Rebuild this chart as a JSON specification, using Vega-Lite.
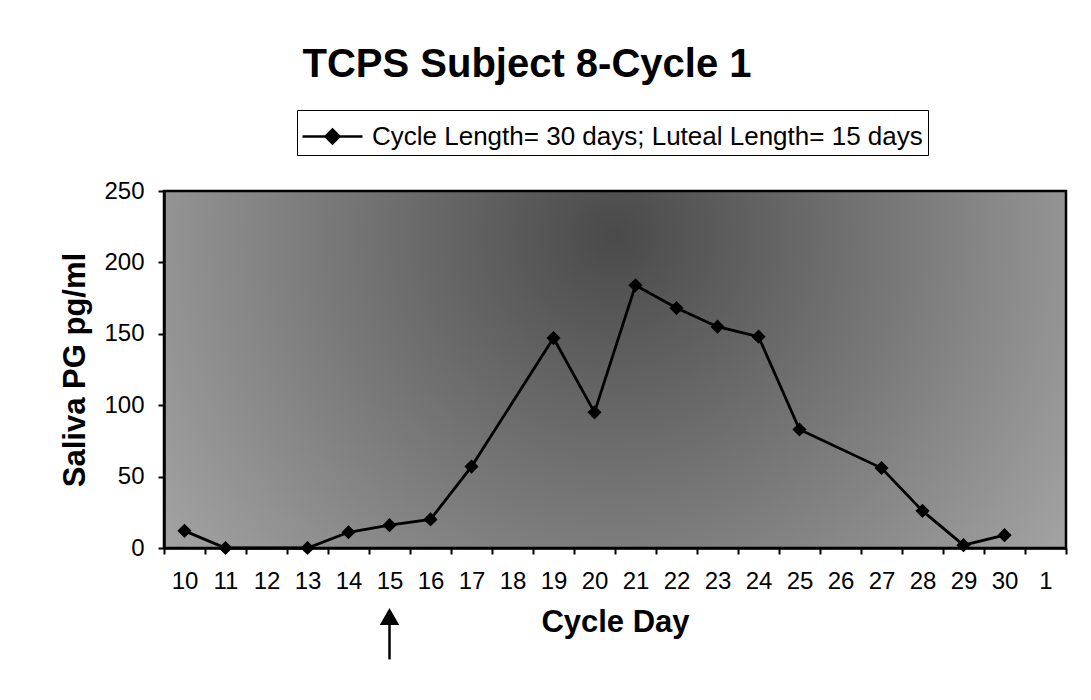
{
  "$schema": "https://vega.github.io/schema/vega-lite/v6.json",
  "autosize": "none",
  "width": 902,
  "height": 357,
  "padding": {"left": 164, "top": 191, "right": 25, "bottom": 152},
  "background": "white",
  "title": {
    "text": "TCPS Subject 8-Cycle 1",
    "fontSize": 40,
    "fontWeight": "bold",
    "font": "Liberation Sans",
    "color": "black",
    "anchor": "middle",
    "frame": "group",
    "dx": -88,
    "offset": 25
  },
  "datasets": {
    "pg": [
      {"day": "10", "pg": 12, "series": "Cycle Length= 30 days; Luteal Length= 15 days"},
      {"day": "11", "pg": 0, "series": "Cycle Length= 30 days; Luteal Length= 15 days"},
      {"day": "13", "pg": 0, "series": "Cycle Length= 30 days; Luteal Length= 15 days"},
      {"day": "14", "pg": 11, "series": "Cycle Length= 30 days; Luteal Length= 15 days"},
      {"day": "15", "pg": 16, "series": "Cycle Length= 30 days; Luteal Length= 15 days"},
      {"day": "16", "pg": 20, "series": "Cycle Length= 30 days; Luteal Length= 15 days"},
      {"day": "17", "pg": 57, "series": "Cycle Length= 30 days; Luteal Length= 15 days"},
      {"day": "19", "pg": 147, "series": "Cycle Length= 30 days; Luteal Length= 15 days"},
      {"day": "20", "pg": 95, "series": "Cycle Length= 30 days; Luteal Length= 15 days"},
      {"day": "21", "pg": 184, "series": "Cycle Length= 30 days; Luteal Length= 15 days"},
      {"day": "22", "pg": 168, "series": "Cycle Length= 30 days; Luteal Length= 15 days"},
      {"day": "23", "pg": 155, "series": "Cycle Length= 30 days; Luteal Length= 15 days"},
      {"day": "24", "pg": 148, "series": "Cycle Length= 30 days; Luteal Length= 15 days"},
      {"day": "25", "pg": 83, "series": "Cycle Length= 30 days; Luteal Length= 15 days"},
      {"day": "27", "pg": 56, "series": "Cycle Length= 30 days; Luteal Length= 15 days"},
      {"day": "28", "pg": 26, "series": "Cycle Length= 30 days; Luteal Length= 15 days"},
      {"day": "29", "pg": 2, "series": "Cycle Length= 30 days; Luteal Length= 15 days"},
      {"day": "30", "pg": 9, "series": "Cycle Length= 30 days; Luteal Length= 15 days"}
    ],
    "arrow": [
      {"day": "15", "tail": -78, "head": -48}
    ]
  },
  "encoding": {
    "x": {
      "field": "day",
      "type": "nominal",
      "scale": {"domain": ["10","11","12","13","14","15","16","17","18","19","20","21","22","23","24","25","26","27","28","29","30","1"], "paddingInner": 0, "paddingOuter": 0},
      "axis": {
        "title": "Cycle Day",
        "labelAngle": 0,
        "tickBand": "extent",
        "tickSize": 6,
        "labelPadding": 15,
        "titlePadding": 14
      }
    }
  },
  "layer": [
    {
      "data": {"name": "pg"},
      "mark": {"type": "line", "strokeWidth": 2.8},
      "encoding": {
        "y": {
          "field": "pg",
          "type": "quantitative",
          "scale": {"domain": [0, 250], "nice": false, "zero": false},
          "axis": {
            "title": "Saliva PG pg/ml",
            "values": [0, 50, 100, 150, 200, 250],
            "tickSize": 6,
            "labelPadding": 14,
            "titlePadding": 12
          }
        },
        "color": {
          "field": "series",
          "type": "nominal",
          "scale": {"range": ["black"]},
          "legend": {
            "title": null,
            "orient": "none",
            "legendX": 133,
            "legendY": -81,
            "symbolType": "M-1.5,0L1.5,0M0,-0.35L0.35,0L0,0.35L-0.35,0Z",
            "symbolSize": 1600,
            "symbolOffset": 9,
            "symbolStrokeWidth": 2.5,
            "symbolStrokeColor": "black",
            "symbolFillColor": "black",
            "labelOffset": 18,
            "labelFontSize": 26,
            "labelLimit": 0,
            "labelColor": "black",
            "strokeColor": "black",
            "fillColor": "white",
            "padding": 5
          }
        }
      }
    },
    {
      "data": {"name": "pg"},
      "mark": {"type": "point", "shape": "diamond", "filled": true, "size": 200, "opacity": 1},
      "encoding": {
        "y": {"field": "pg", "type": "quantitative"},
        "color": {"field": "series", "type": "nominal"}
      }
    },
    {
      "data": {"name": "arrow"},
      "mark": {"type": "rule", "color": "black", "strokeWidth": 2.5, "clip": false},
      "encoding": {
        "y": {"field": "tail", "type": "quantitative"},
        "y2": {"field": "head"}
      }
    },
    {
      "data": {"name": "arrow"},
      "mark": {"type": "point", "shape": "triangle-up", "filled": true, "size": 380, "color": "black", "opacity": 1, "clip": false},
      "encoding": {
        "y": {"field": "head", "type": "quantitative"}
      }
    }
  ],
  "config": {
    "font": "Liberation Sans",
    "view": {
      "stroke": "black",
      "strokeWidth": 2.5,
      "fill": {
        "gradient": "radial",
        "x1": 0.5, "y1": 0.35, "x2": 0.5, "y2": 0.35, "r1": 0, "r2": 0.75,
        "stops": [
          {"offset": 0, "color": "#4a4a4a"},
          {"offset": 1, "color": "#b8b8b8"}
        ]
      }
    },
    "axis": {
      "grid": false,
      "labelFont": "Liberation Sans",
      "labelFontSize": 24,
      "labelColor": "black",
      "titleFont": "Liberation Sans",
      "titleFontSize": 31,
      "titleFontWeight": "bold",
      "titleColor": "black",
      "tickColor": "black",
      "tickWidth": 2,
      "domainColor": "black",
      "domainWidth": 2.5
    }
  }
}
